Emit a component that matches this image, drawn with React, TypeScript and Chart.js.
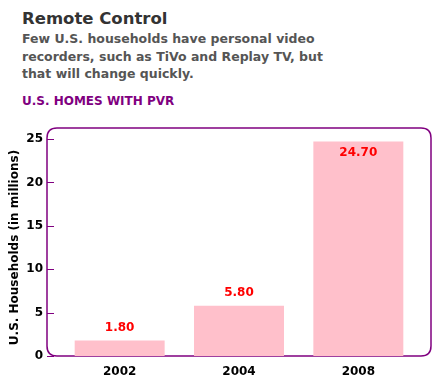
import React, { useEffect, useRef } from "react";
import { Chart, registerables } from "chart.js";

Chart.register(...registerables);

const categories = ["2002", "2004", "2008"];
const values = [1.8, 5.8, 24.7];
const yTicks = [0, 5, 10, 15, 20, 25];
const titleText = "Remote Control";
const subtitleLines = [
  "Few U.S. households have personal video",
  "recorders, such as TiVo and Replay TV, but",
  "that will change quickly.",
];
const sectionLabel = "U.S. HOMES WITH PVR";
const yAxisTitle = "U.S. Households (in millions)";

const FONT = "'DejaVu Sans', Verdana, sans-serif";
const PURPLE = "#800080";

const framePlugin = {
  id: "frame",
  beforeDatasetsDraw(chart: any) {
    const { ctx, chartArea } = chart;
    const y = chart.scales.y;
    const left = chartArea.left - 13;
    const right = chartArea.right + 13;
    const top = y.getPixelForValue(25) - 11;
    const bottom = chartArea.bottom;
    const r = 10;
    ctx.save();
    ctx.strokeStyle = PURPLE;
    ctx.lineWidth = 1.5;
    ctx.beginPath();
    ctx.moveTo(left + r, top);
    ctx.lineTo(right - r, top);
    ctx.quadraticCurveTo(right, top, right, top + r);
    ctx.lineTo(right, bottom - r);
    ctx.quadraticCurveTo(right, bottom, right - r, bottom);
    ctx.lineTo(left + r, bottom);
    ctx.quadraticCurveTo(left, bottom, left, bottom - r);
    ctx.lineTo(left, top + r);
    ctx.quadraticCurveTo(left, top, left + r, top);
    ctx.stroke();
    ctx.lineWidth = 1;
    for (const t of yTicks) {
      const py = Math.round(y.getPixelForValue(t)) + 0.5;
      ctx.beginPath();
      ctx.moveTo(left, py);
      ctx.lineTo(left + 7, py);
      ctx.stroke();
    }
    ctx.restore();
  },
  afterDatasetsDraw(chart: any) {
    const { ctx, chartArea } = chart;
    const meta = chart.getDatasetMeta(0);
    ctx.save();
    ctx.fillStyle = "#ff0000";
    ctx.font = `bold 12px ${FONT}`;
    ctx.textAlign = "center";
    ctx.textBaseline = "middle";
    meta.data.forEach((bar: any, i: number) => {
      let ly = bar.y - 13;
      if (ly - 6 < chartArea.top) ly = bar.y + 11;
      ctx.fillText(values[i].toFixed(2), bar.x, ly);
    });
    ctx.restore();
  },
};

export default function App() {
  const ref = useRef<HTMLCanvasElement>(null);
  useEffect(() => {
    if (!ref.current) return;
    const chart = new Chart(ref.current, {
      type: "bar",
      data: {
        labels: categories,
        datasets: [
          {
            data: values,
            backgroundColor: "#ffc0cb",
            borderWidth: 0,
            barPercentage: 0.754,
            categoryPercentage: 1,
          },
        ],
      },
      options: {
        animation: false,
        responsive: false,
        maintainAspectRatio: false,
        layout: { padding: { left: 0, right: 14, top: 29, bottom: 0 } },
        plugins: {
          legend: { display: false },
          tooltip: { enabled: false },
        },
        scales: {
          x: {
            grid: { display: false, drawTicks: false },
            border: { display: false },
            ticks: {
              color: "#000",
              padding: 9,
              font: { family: FONT, size: 12, weight: "bold" },
            },
            afterFit(scale: any) {
              scale.height = 28;
            },
          },
          y: {
            min: 0,
            max: 25,
            grid: { display: false, drawTicks: false },
            border: { display: false },
            ticks: {
              stepSize: 5,
              color: "#000",
              padding: 17,
              font: { family: FONT, size: 12, weight: "bold" },
            },
            title: {
              display: true,
              text: yAxisTitle,
              color: "#000",
              padding: { top: 8, bottom: 0 },
              font: { family: FONT, size: 12, weight: "bold" },
            },
            afterFit(scale: any) {
              scale.width = 60;
            },
          },
        },
      },
      plugins: [framePlugin],
    } as any);
    return () => chart.destroy();
  }, []);

  return (
    <div
      style={{
        position: "absolute",
        left: 0,
        top: 0,
        width: 432,
        height: 384,
        background: "#fff",
        fontFamily: FONT,
        overflow: "hidden",
      }}
    >
      <div
        style={{
          position: "absolute",
          left: 22,
          top: 8,
          fontSize: 16.5,
          fontWeight: "bold",
          color: "#333",
          lineHeight: "21px",
          whiteSpace: "nowrap",
        }}
      >
        {titleText}
      </div>
      <div
        style={{
          position: "absolute",
          left: 22,
          top: 30,
          fontSize: 12.5,
          fontWeight: "bold",
          color: "#555",
          lineHeight: "17.5px",
          whiteSpace: "nowrap",
        }}
      >
        {subtitleLines.map((l, i) => (
          <div key={i}>{l}</div>
        ))}
      </div>
      <div
        style={{
          position: "absolute",
          left: 22,
          top: 93,
          fontSize: 12,
          fontWeight: "bold",
          color: PURPLE,
          lineHeight: "16px",
          whiteSpace: "nowrap",
        }}
      >
        {sectionLabel}
      </div>
      <canvas
        ref={ref}
        width={432}
        height={274}
        style={{ position: "absolute", left: 0, top: 110, width: 432, height: 274 }}
      />
    </div>
  );
}
